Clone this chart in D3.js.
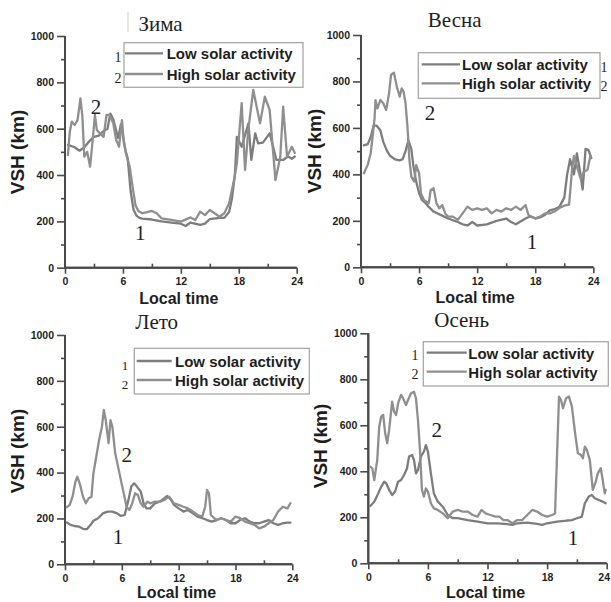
<!DOCTYPE html>
<html>
<head>
<meta charset="utf-8">
<script src="https://cdn.jsdelivr.net/npm/d3@7"></script>
<style>
  body { margin: 0; background: #fff; }
  svg { display: block; }
</style>
</head>
<body>
<svg id="chart" width="611" height="602"></svg>
<script>
// ---- Data: VSH (km) versus local time, by season and solar activity ----
const seasons = ["Зима", "Весна", "Лето", "Осень"];
const legendLabels = ["Low solar activity", "High solar activity"];
const curveNumbers = ["1", "2"];
const xTicks = [0, 6, 12, 18, 24];
const xMinorTicks = [3, 9, 15, 21];
const yTicks = [0, 200, 400, 600, 800, 1000];
const yMinorTicks = [100, 300, 500, 700, 900];
const xTitle = "Local time";
const yTitle = "VSH (km)";

// Winter
const winterLowHours = [0.3,1.0,1.5,2.0,2.5,3.0,3.5,4.0,4.4,4.7,5.0,5.5,5.8,6.0,6.3,6.5,6.8,7.1,7.4,7.7,8,9,10,11,12,12.5,13,14,14.5,15,16,16.5,17,17.3,17.6,17.8,18.3,19.0,19.3,19.7,20.0,20.5,21.2,21.9,22.6,23.1,23.5,23.8];
const winterLow = [530,520,505,520,545,565,570,590,600,665,640,560,620,570,500,470,330,250,225,215,212,208,200,195,190,180,195,185,190,210,215,215,240,300,400,565,522,623,465,580,537,540,580,465,465,480,470,480];
const winterHighHours = [0.3,0.5,0.7,1.0,1.3,1.6,1.8,2.0,2.3,2.6,2.8,3.1,3.3,3.6,4.0,4.3,4.6,5.0,5.3,5.6,5.9,6.1,6.4,6.7,7.0,7.3,7.6,8.0,8.5,9.0,9.5,10,11,12,13,13.5,14,14.5,15,15.5,16,16.5,17,17.5,17.8,18.3,18.65,19.0,19.5,20.2,20.7,21.2,21.8,22.3,22.6,23.0,23.5,23.8];
const winterHigh = [486,587,630,616,637,731,652,479,500,436,522,659,594,580,565,659,659,623,551,522,637,537,480,436,350,270,245,235,240,245,235,213,206,199,217,206,242,227,249,235,220,235,278,378,450,710,422,600,767,623,738,680,378,479,695,479,522,495];

// Spring
const springLowHours = [0.3,0.7,1.0,1.3,1.6,2.0,2.3,2.7,3.0,3.5,4.0,4.3,4.6,4.9,5.2,5.4,5.7,6.0,6.3,6.7,7,7.5,8,9,10,10.5,11,11.5,12,13,14,15,15.5,16,17,17.5,18,18.5,19,19.5,20,20.5,21,21.3,21.6,22,22.3,22.6,22.9,23.2,23.5,23.8];
const springLow = [525,530,560,610,610,590,540,500,480,465,460,465,500,545,510,440,370,320,290,275,260,240,230,210,195,185,180,195,180,185,200,210,195,185,210,220,210,215,225,245,250,260,300,400,465,400,490,420,335,510,505,470];
const springHighHours = [0.3,0.7,1.0,1.2,1.4,1.5,1.7,2.0,2.3,2.6,2.9,3.1,3.4,3.7,4.0,4.2,4.4,4.6,4.8,5.0,5.2,5.5,5.7,6.0,6.2,6.5,7.0,7.2,7.5,7.8,8.1,8.4,8.7,9.0,9.5,10,10.5,11,11.5,12,12.5,13,13.5,14,14.5,15,15.5,16,16.5,17,17.3,17.6,18,18.5,19,19.5,20,20.5,21,21.5,21.8,22.0,22.4,22.7,23.0,23.4,23.7];
const springHigh = [405,442,491,562,641,720,684,720,706,677,749,828,838,778,735,770,756,706,605,462,390,369,440,405,318,290,275,333,340,275,254,268,232,218,218,204,232,261,247,254,247,254,232,247,240,254,247,261,247,268,225,218,211,218,232,232,240,255,265,270,420,480,420,380,410,420,480];

// Summer
const summerLowHours = [0.2,0.6,1,1.5,2,2.3,2.7,3,3.5,4,4.5,5,5.5,5.9,6.3,6.7,7,7.3,7.6,8,8.3,8.6,9,9.5,10,10.5,10.8,11.2,11.5,12,12.5,13,13.5,14,14.5,15,15.5,16,16.5,17,17.5,18,18.5,19,19.5,20,20.5,21,21.5,22,22.5,23,23.5,23.8];
const summerLow = [182,172,167,164,153,153,172,190,201,222,230,230,222,211,215,281,339,353,339,317,266,244,244,266,273,288,298,281,259,244,230,237,222,208,201,193,186,193,201,193,179,179,193,201,186,179,179,186,193,179,172,179,182,182];
const summerHighHours = [0.2,0.5,0.8,1.1,1.3,1.6,1.9,2.2,2.5,2.8,3.0,3.3,3.6,3.9,4.1,4.3,4.6,4.8,5.0,5.3,5.6,5.9,6.2,6.5,6.8,7.1,7.4,7.7,8,8.3,8.7,9,9.5,10,10.5,11,11.5,12,12.5,13,13.5,14,14.5,14.8,15,15.2,15.4,16,16.5,17,17.5,18,18.5,19,19.5,20,20.5,21,21.5,22,22.5,23,23.5,23.8];
const summerHigh = [249,259,295,360,382,346,295,266,288,295,397,469,542,600,673,629,528,629,600,484,426,368,310,251,237,266,310,302,266,251,273,266,273,273,281,295,266,259,251,244,230,215,208,251,324,310,215,193,201,193,186,208,201,186,179,172,157,164,179,193,230,251,244,266];

// Autumn
const autumnLowHours = [0.2,0.6,1.0,1.3,1.6,1.8,2.1,2.4,2.7,3.0,3.3,3.6,3.9,4.1,4.4,4.6,4.8,5.0,5.3,5.6,5.8,6.0,6.3,6.6,7.0,7.5,8,8.5,9,10,11,12,13,14,14.5,15,16,17,17.5,18,19,20,20.5,21,21.5,21.8,22.2,22.5,22.8,23.2,23.6,23.9];
const autumnLow = [249,268,304,333,355,348,319,297,312,355,362,384,413,464,471,449,391,406,464,486,514,486,391,304,268,246,210,196,196,188,181,174,174,170,167,174,177,171,167,174,181,186,188,196,203,261,290,297,283,275,268,261];
const autumnHighHours = [0.2,0.4,0.6,0.9,1.1,1.3,1.5,1.7,1.9,2.1,2.4,2.6,2.8,3.0,3.3,3.5,3.8,4.0,4.3,4.6,4.8,5.0,5.2,5.4,5.6,5.8,6.0,6.3,6.6,7,7.5,8,8.5,9,9.5,10,10.5,11,11.4,11.8,12.3,12.8,13.2,13.6,14,14.5,15,15.5,16,16.5,17,17.5,18,18.5,18.8,19.2,19.4,19.6,19.9,20.2,20.5,20.8,21.1,21.4,21.6,21.8,22.0,22.3,22.6,22.9,23.1,23.4,23.6,23.8,23.9];
const autumnHigh = [420,413,362,449,594,638,645,565,522,580,703,659,645,696,732,717,688,710,739,746,717,623,493,319,290,326,312,261,239,232,217,196,225,232,225,225,210,203,232,217,210,203,203,188,188,174,188,188,210,232,225,210,203,210,217,725,710,674,717,725,681,572,478,471,457,507,493,449,319,355,391,413,362,304,319];

const panels = [
  { title: seasons[0], low: [winterLowHours, winterLow], high: [winterHighHours, winterHigh] },
  { title: seasons[1], low: [springLowHours, springLow], high: [springHighHours, springHigh] },
  { title: seasons[2], low: [summerLowHours, summerLow], high: [summerHighHours, summerHigh] },
  { title: seasons[3], low: [autumnLowHours, autumnLow], high: [autumnHighHours, autumnHigh] }
];

// ---- Layout of the four panels ----
const W = 611, H = 602;
const layouts = [
  { plot: { x0: 65, x1: 296.7, yTop: 36, yBottom: 267.7 }, title: [160.5, 31], yLabel: [17, 152],
    legend: { box: [124, 42.7, 179, 44.6], line: [125, 163], rows: [53.3, 74], textX: 166.7, numX: 118, numDy: 4, numSize: 14 },
    marks: { high: [3.2, 694], low: [7.8, 150] }, rule: [128, 12, 32] },
  { plot: { x0: 361, x1: 593.3, yTop: 35, yBottom: 267.3 }, title: [454.7, 27], yLabel: [314, 151],
    legend: { box: [418.3, 52.7, 181.7, 45.6], line: [421.7, 460], rows: [64.3, 83.3], textX: 462, numX: 604, numDy: 3.5, numSize: 14 },
    marks: { high: [7.13, 664], low: [17.67, 109] } },
  { plot: { x0: 65, x1: 292.3, yTop: 335, yBottom: 564.3 }, title: [156.7, 329], yLabel: [17, 451],
    legend: { box: [134.3, 348.3, 175, 45.7], line: [136.7, 171.7], rows: [361, 380], textX: 175, numX: 125, numDy: 4, numSize: 13 },
    marks: { high: [6.52, 477], low: [5.6, 119] } },
  { plot: { x0: 368.3, x1: 606.7, yTop: 333.3, yBottom: 563.3 }, title: [461.7, 327], yLabel: [320, 446],
    legend: { box: [423.3, 341.7, 185, 44.3], line: [426.7, 466.7], rows: [352.7, 371.7], textX: 468.3, numX: 415, numDy: 3, numSize: 14 },
    marks: { high: [6.89, 580], low: [20.6, 110] } }
];

const lowColor = "#7d7d7d";
const highColor = "#8f8f8f";
const axisColor = "#4a4a4a";
const textColor = "#1e1e1e";
const sans = "'Liberation Sans', Arial, sans-serif";
const serif = "'Liberation Serif', 'Times New Roman', serif";

const svg = d3.select("#chart");

panels.forEach((p, i) => {
  const L = layouts[i];
  const x = d3.scaleLinear().domain([0, 24]).range([L.plot.x0, L.plot.x1]);
  const y = d3.scaleLinear().domain([0, 1000]).range([L.plot.yBottom, L.plot.yTop]);
  const g = svg.append("g");

  // Season title
  g.append("text")
    .attr("x", L.title[0]).attr("y", L.title[1])
    .attr("text-anchor", "middle")
    .style("font-family", serif).style("font-size", "21px").style("fill", textColor)
    .text(p.title);

  if (L.rule) {
    g.append("line")
      .attr("x1", L.rule[0]).attr("x2", L.rule[0])
      .attr("y1", L.rule[1]).attr("y2", L.rule[2])
      .attr("stroke", "#d0d0d0").attr("stroke-width", 1);
  }

  // Y axis
  const yAxis = d3.axisLeft(y).tickValues(yTicks).tickSize(8).tickPadding(3).tickFormat(d3.format("d"));
  const yG = g.append("g").attr("transform", `translate(${L.plot.x0},0)`).call(yAxis);
  const yMinor = d3.axisLeft(y).tickValues(yMinorTicks).tickSize(4).tickFormat("");
  const yMG = g.append("g").attr("transform", `translate(${L.plot.x0},0)`).call(yMinor);

  // X axis
  const xAxis = d3.axisBottom(x).tickValues(xTicks).tickSize(6).tickPadding(4).tickFormat(d3.format("d"));
  const xG = g.append("g").attr("transform", `translate(0,${L.plot.yBottom})`).call(xAxis);
  const xMinor = d3.axisTop(x).tickValues(xMinorTicks).tickSize(4).tickFormat("");
  const xMG = g.append("g").attr("transform", `translate(0,${L.plot.yBottom})`).call(xMinor);

  [yG, yMG, xG, xMG].forEach(ax => {
    ax.select(".domain").attr("stroke", axisColor).attr("stroke-width", 2);
    ax.selectAll(".tick line").attr("stroke", axisColor).attr("stroke-width", 1.6);
    ax.selectAll(".tick text")
      .style("font-family", sans).style("font-size", "10.5px").style("font-weight", "bold")
      .style("fill", textColor);
  });
  // Keep the last x tick label inside the drawing area
  xG.selectAll(".tick text").each(function () {
    const t = d3.select(this);
    const tr = d3.select(this.parentNode).attr("transform");
    const cx = +/translate\(([-\d.]+)/.exec(tr)[1];
    const half = this.getComputedTextLength() / 2;
    if (cx + half > W - 1) t.attr("x", W - 1 - half - cx);
  });
  // The axes are drawn without outer end ticks
  [yG, yMG].forEach(ax => ax.select(".domain").attr("d", `M0,${y(1000)}V${y(0)}`));
  [xG, xMG].forEach(ax => ax.select(".domain").attr("d", `M${x(0)},0H${x(24)}`));

  // Axis titles
  g.append("text")
    .attr("transform", `translate(${L.yLabel[0]},${L.yLabel[1]}) rotate(-90)`)
    .attr("text-anchor", "middle").attr("dominant-baseline", "central")
    .style("font-family", sans).style("font-size", "19px").style("font-weight", "bold").style("fill", textColor)
    .text(yTitle);
  g.append("text")
    .attr("x", (L.plot.x0 + L.plot.x1) / 2 - 2).attr("y", Math.min(L.plot.yBottom + 36, H - 4))
    .attr("text-anchor", "middle")
    .style("font-family", sans).style("font-size", "16px").style("font-weight", "bold").style("fill", textColor)
    .text(xTitle);

  // Curves
  const line = d3.line().x(d => x(d[0])).y(d => y(d[1]));
  const series = [
    { pts: d3.zip(p.low[0], p.low[1]), color: lowColor },
    { pts: d3.zip(p.high[0], p.high[1]), color: highColor }
  ];
  series.forEach(s => {
    g.append("path")
      .attr("d", line(s.pts))
      .attr("fill", "none").attr("stroke", s.color)
      .attr("stroke-width", 2.3).attr("stroke-linejoin", "round").attr("stroke-linecap", "round");
  });

  // Curve numbers
  [["low", curveNumbers[0]], ["high", curveNumbers[1]]].forEach(([k, t]) => {
    g.append("text")
      .attr("x", x(L.marks[k][0])).attr("y", y(L.marks[k][1]))
      .attr("text-anchor", "middle").attr("dominant-baseline", "central")
      .style("font-family", serif).style("font-size", "21px").style("fill", textColor)
      .text(t);
  });

  // Legend
  const lg = L.legend;
  g.append("rect")
    .attr("x", lg.box[0]).attr("y", lg.box[1]).attr("width", lg.box[2]).attr("height", lg.box[3])
    .attr("fill", "#fff").attr("stroke", "#a8a8a8").attr("stroke-width", 1.3);
  legendLabels.forEach((lab, j) => {
    const ry = lg.rows[j];
    g.append("line")
      .attr("x1", lg.line[0]).attr("x2", lg.line[1]).attr("y1", ry).attr("y2", ry)
      .attr("stroke", j === 0 ? lowColor : highColor).attr("stroke-width", 2.3);
    g.append("text")
      .attr("x", lg.textX).attr("y", ry + 6)
      .style("font-family", sans).style("font-size", "15px").style("font-weight", "bold").style("fill", textColor)
      .text(lab);
    g.append("text")
      .attr("x", lg.numX).attr("y", ry + lg.numDy)
      .attr("text-anchor", "middle").attr("dominant-baseline", "central")
      .style("font-family", serif).style("font-size", lg.numSize + "px").style("fill", textColor)
      .text(curveNumbers[j]);
  });
});
</script>
</body>
</html>
